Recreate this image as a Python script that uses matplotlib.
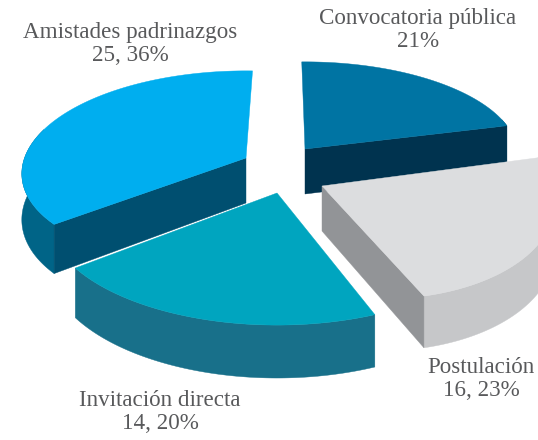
import numpy as np
import matplotlib
matplotlib.use("Agg")
import matplotlib.pyplot as plt
from matplotlib.patches import Polygon

categories = ["Convocatoria pública", "Postulación", "Invitación directa", "Amistades padrinazgos"]
values = [15, 16, 14, 25]
label_texts = ["Convocatoria pública\n21%", "Postulación\n16, 23%", "Invitación directa\n14, 20%", "Amistades padrinazgos\n25, 36%"]

top_colors = ["#0074A3", "#DCDDDF", "#00A5BF", "#00AEEF"]
outer_colors = ["#00506F", "#C6C7C9", "#18708A", "#006487"]
inner_colors = ["#00334F", "#929497", "#18708A", "#004F70"]
label_pos = [(418, 30), (481, 379), (160, 412), (130, 44)]
apex_pos = [(305, 149), (322, 186), (277, 193), (246, 158)]
slice_turn = [-1.0, -2.8, 0.0, 2.0]
rim_start = [1.0, 1.054, 1.0, 0.94]
rim_end = [0.968, 0.94, 1.0, 1.0]

W, H = 538, 440
A, B, K, DEPTH = 225, 105, 0.205, 45

fig = plt.figure(figsize=(W / 100, H / 100), dpi=100)
ax = fig.add_axes([0, 0, 1, 1])
ax.set_xlim(0, W)
ax.set_ylim(H, 0)
ax.axis("off")


def project(u, v):
    w = 1 + K * v
    return A * u / w, -B * v / w


def wall(xa, ya, da, color):
    pts = np.concatenate([np.column_stack([xa, ya]), np.column_stack([xa, ya + da])[::-1]])
    ax.add_patch(Polygon(pts, closed=True, fc=color, ec=color, lw=0.3))


total = sum(values)
start = 0.0
for val, top, outer, inner, txt, pos, apex, turn, r0, r1 in zip(
        values, top_colors, outer_colors, inner_colors, label_texts, label_pos, apex_pos,
        slice_turn, rim_start, rim_end):
    sweep = 360.0 * val / total
    t = np.linspace(0, 1, 160)
    th = np.radians(start + turn + sweep * t)
    r = 1 + (r0 - 1) * (1 - t) ** 4 + (r1 - 1) * t ** 4
    us, vs = r * np.sin(th), r * np.cos(th)
    x, y = project(us, vs)
    x, y = x + apex[0], y + apex[1]
    d = DEPTH / (1 + 0.15 * vs)
    # outer rim, only the part that looks towards the viewer
    front = vs < 0.3
    if front.any():
        wall(x[front], y[front], d[front], outer)
    # radial faces that look towards the viewer
    sx0, sy0 = x[0] - apex[0], y[0] - apex[1]
    sx1, sy1 = x[-1] - apex[0], y[-1] - apex[1]
    if sx0 < 0 and abs(sx0) > 0.2 * abs(sy0):
        wall(np.array([apex[0], x[0]]), np.array([apex[1], y[0]]), np.array([DEPTH, d[0]]), inner)
    if sx1 > 0 and abs(sx1) > 0.2 * abs(sy1):
        wall(np.array([apex[0], x[-1]]), np.array([apex[1], y[-1]]), np.array([DEPTH, d[-1]]), inner)
    poly = np.column_stack([np.r_[apex[0], x], np.r_[apex[1], y]])
    ax.add_patch(Polygon(poly, closed=True, fc=top, ec=top, lw=0.3))
    ax.text(pos[0], pos[1], txt, ha="center", va="center", fontsize=16.6,
            family="Liberation Serif", color="#58595B", linespacing=1.15)
    start += sweep

fig.savefig("out.png", dpi=100)
